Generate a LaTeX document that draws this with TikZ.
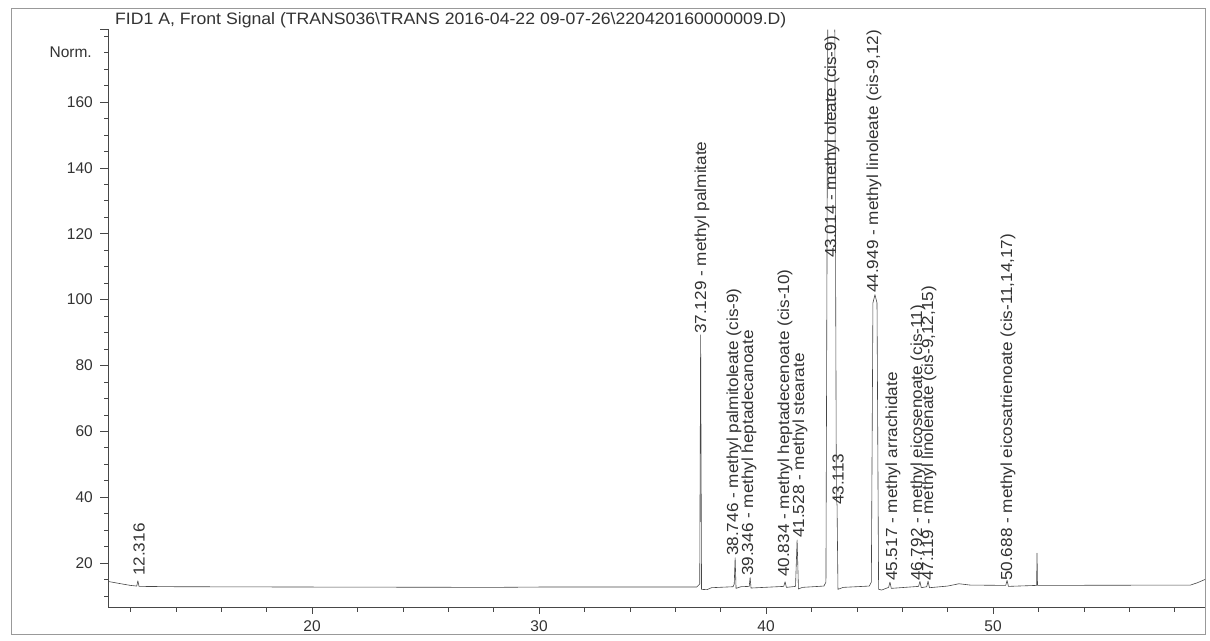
\documentclass[tikz,border=0pt]{standalone}
\usepackage{fontspec}
\setmainfont{Liberation Sans}
\newfontfamily\stfont[FakeStretch=1.07]{Liberation Sans}
\begin{document}
\begin{tikzpicture}[x=1pt,y=-1pt,
  ln/.style={draw=black!72, line width=0.6pt},
  sig/.style={draw=black!72, line width=0.6pt, line join=round},
  lbl/.style={rotate=90, anchor=west, inner sep=0pt, font=\stfont\fontsize{16}{18}\selectfont, text=black!80},
  ticklab/.style={font=\fontsize{15.5}{18}\selectfont, text=black!80, inner sep=0pt}]
\useasboundingbox (0,0) rectangle (1210,640);
\fill[white] (0,0) rectangle (1210,640);
\draw[black!40, line width=0.6pt] (11,8) rectangle (1205,634);
\node[anchor=base west, inner sep=0pt, font=\stfont\fontsize{16.5}{18}\selectfont, text=black!80] (title) at (115,24) {FID1 A, Front Signal (TRANS036\textbackslash TRANS 2016-04-22 09-07-26\textbackslash 220420160000009.D)};
\node[ticklab, anchor=base east] (norm) at (92,57) {Norm.};
% axes
\coordinate (ytop) at (108,29);
\coordinate (orig) at (108,607);
\coordinate (xend) at (1205,607);
\draw[ln] (ytop) -- (orig) -- (xend);
\draw[ln] (ytop) -- ++(-8,0);
\begin{scope}[shift={(-142,628.86)}, x=22.7pt, y=3.293pt]
  \foreach \v in {10,15,...,180} { \draw[ln] (11.0132,\v) -- ++(-4pt,0); }
  \foreach \v in {20,40,...,160} {
    \draw[ln] (11.0132,\v) -- ++(-8pt,0);
    \node[ticklab, anchor=east] (yl\v) at ([xshift=-15pt]11.0132,\v) {\v};
  }
  \foreach \t in {12,14,...,58} { \draw[ln] (\t,6.638) -- ++(0,-5pt); }
  \foreach \t in {20,30,40,50} {
    \draw[ln] (\t,6.638) -- ++(0,-7pt);
    \node[ticklab] (xl\t) at ([yshift=-19pt]\t,6.638) {\t};
  }
  % signal
  \draw[sig] (11.02,14.4) -- (11.5,13.8) -- (12.0,13.2) -- (12.28,13.0) -- (12.33,14.6) -- (12.38,12.9)
    -- (14,12.8) -- (20,12.7) -- (28,12.6) -- (30,12.7) -- (36.95,12.7) -- (37.08,13.6)
    -- (37.12,89.3) -- (37.16,12.0) -- (37.4,11.9) -- (37.6,12.5) -- (38.55,12.8) -- (38.6,13.6)
    -- (38.64,21.6) -- (38.68,12.3) -- (38.9,12.8) -- (39.26,12.9) -- (39.30,15.6) -- (39.34,12.4)
    -- (40.78,12.9) -- (40.84,14.3) -- (40.90,12.6) -- (41.30,12.9) -- (41.37,27) -- (41.43,12.1)
    -- (41.6,12.6) -- (42.55,13.0) -- (42.64,14.2) -- (42.72,182)
    (43.03,182) -- (43.10,40) -- (43.13,37.5) -- (43.17,12.0) -- (43.4,12.6)
    -- (44.55,13.0) -- (44.64,14.2) -- (44.71,99) -- (44.80,101.5) -- (44.89,99) -- (44.96,12)
    -- (45.1,11.8) -- (45.40,12.6) -- (45.46,14.2) -- (45.52,12.3) -- (46.72,12.9) -- (46.78,14.4)
    -- (46.84,12.5) -- (47.08,12.8) -- (47.14,14.5) -- (47.20,12.5) -- (48.0,13.0) -- (48.5,13.7)
    -- (49.0,13.3) -- (50.56,13.2) -- (50.62,14.7) -- (50.68,12.9) -- (51.92,13.2) -- (51.94,23)
    -- (51.96,13.2) -- (58.7,13.3) -- (59.0,14.0) -- (59.34,15.0);
\end{scope}
% peak labels
\node[lbl] (p1) at (139,576) {12.316};
\node[lbl] (p2) at (702,334) {37.129 - methyl palmitate};
\node[lbl] (p3) at (734,556) {38.746 - methyl palmitoleate (cis-9)};
\node[lbl] (p4) at (749,576) {39.346 - methyl heptadecanoate};
\node[lbl] (p5) at (785,577) {40.834 - methyl heptadecenoate (cis-10)};
\node[lbl] (p6) at (800,538) {41.528 - methyl stearate};
\node[lbl] (p7) at (832,258) {43.014 - methyl oleate (cis-9)};
\node[lbl] (p8) at (838,505) {43.113};
\node[lbl] (p9) at (874,293) {44.949 - methyl linoleate (cis-9,12)};
\node[lbl] (p10) at (893,581) {45.517 - methyl arrachidate};
\node[lbl] (p11) at (918,581) {46.792 - methyl eicosenoate (cis-11)};
\node[lbl] (p12) at (929,581) {47.119 - methyl linolenate (cis-9,12,15)};
\node[lbl] (p13) at (1008,581) {50.688 - methyl eicosatrienoate (cis-11,14,17)};
\end{tikzpicture}
\end{document}
